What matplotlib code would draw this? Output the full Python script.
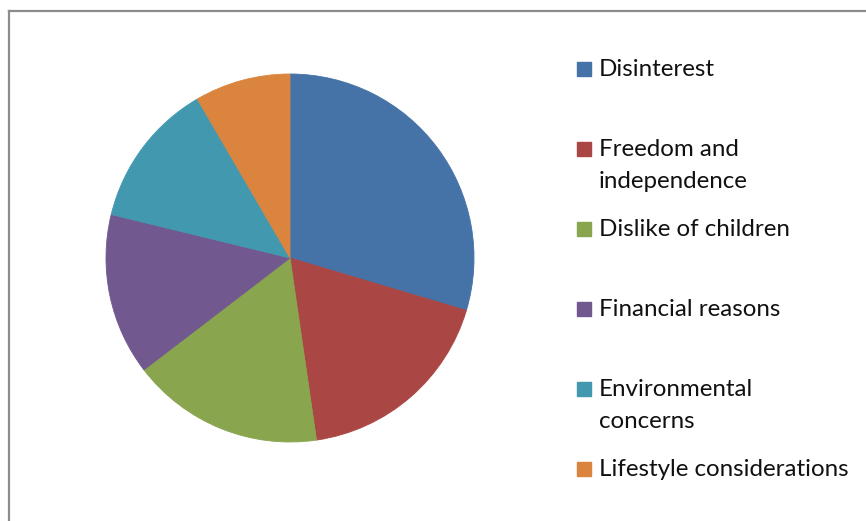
import matplotlib
matplotlib.use("Agg")
import matplotlib.pyplot as plt
from matplotlib.patches import Rectangle
from matplotlib.lines import Line2D

categories = ["Disinterest", "Freedom and\nindependence", "Dislike of children",
              "Financial reasons", "Environmental\nconcerns", "Lifestyle considerations"]
values = [29.6, 18.1, 16.9, 14.2, 12.8, 8.4]
colors = ["#4572A7", "#AA4643", "#89A54E", "#71588F", "#4198AF", "#DB843D"]

W, H = 866, 521
fig = plt.figure(figsize=(W / 100, H / 100), dpi=100)
fig.patch.set_facecolor("white")

def fx(px):
    return px / W

def fy(py):
    return 1 - py / H

# chart frame
fig.add_artist(Line2D([fx(9), fx(9)], [fy(11), fy(H + 5)], color="#8c8c8c", lw=1.6))
fig.add_artist(Line2D([fx(9), fx(W + 5)], [fy(11), fy(11)], color="#8c8c8c", lw=1.6))

# pie
cx, cy, r = 290, 258, 184
ax = fig.add_axes([fx(cx - r), fy(cy + r), fx(2 * r), (2 * r) / H])
ax.pie(values, colors=colors, startangle=90, counterclock=False,
       wedgeprops=dict(linewidth=0.6), radius=1.0)
for w, c in zip(ax.patches, colors):
    w.set_edgecolor(c)
ax.set_xlim(-1, 1)
ax.set_ylim(-1, 1)
ax.set_aspect("equal")
ax.axis("off")

# legend
font = "Lato"
fs = 17.4
y0, step, lstep = 69, 80, 32
for i, (lab, c) in enumerate(zip(categories, colors)):
    ym = y0 + i * step
    fig.add_artist(Rectangle((fx(577), fy(ym + 7)), fx(14), 14 / H, color=c,
                             transform=fig.transFigure))
    for j, line in enumerate(lab.split("\n")):
        fig.text(fx(599), fy(ym + 7 + j * lstep), line, fontsize=fs, family=font,
                 color="#111111", va="baseline", ha="left")

fig.savefig("out.png", dpi=100)
